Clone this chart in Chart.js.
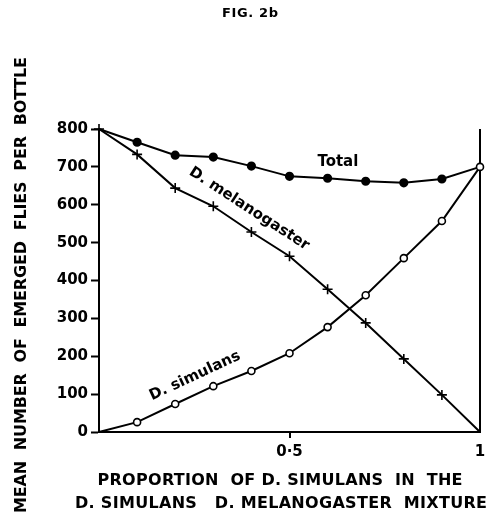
<!DOCTYPE html>
<html>
<head>
<meta charset="utf-8">
<script src="https://cdn.jsdelivr.net/npm/chart.js@4"></script>
<style>
  html, body { margin: 0; padding: 0; background: #fff; }
  #wrap { width: 493px; height: 524px; }
</style>
</head>
<body>
<div id="wrap"><canvas id="fig2b"></canvas></div>
<script>
// proportion of D. simulans in the mixture
var proportions = [0, 0.1, 0.2, 0.3, 0.4, 0.5, 0.6, 0.7, 0.8, 0.9, 1];
// mean number of emerged flies per bottle
var totalFlies = [800, 765, 731, 726, 702, 675, 670, 662, 658, 668, 700];
var melanogasterFlies = [800, 733, 644, 596, 528, 464, 377, 288, 193, 98, 0];
var simulansFlies = [0, 26, 74, 121, 161, 208, 277, 361, 459, 557, 700];

var xTickLabels = { 0.5: '0·5', 1: '1' };
var figTitle = 'FIG. 2b';
var yTitle = 'MEAN  NUMBER  OF  EMERGED  FLIES  PER  BOTTLE';
var xTitle = ['PROPORTION  OF D. SIMULANS  IN  THE', 'D. SIMULANS   D. MELANOGASTER  MIXTURE'];

var FONT = '"DejaVu Sans", sans-serif';

function toPoints(values) {
    return proportions.map(function (p, i) { return { x: p, y: values[i] }; });
}

// draws text stretched with letter spacing to a given width
function spacedText(c, text, x, y, width) {
    c.letterSpacing = '0px';
    var w = c.measureText(text).width;
    var gap = (width - w) / (text.length - 1);
    c.letterSpacing = gap + 'px';
    c.fillText(text, x + gap / 2, y);
    c.letterSpacing = '0px';
}

var textPlugin = {
    id: 'figText',
    afterDraw: function (chart) {
        var c = chart.ctx;
        var sx = chart.scales.x, sy = chart.scales.y;
        c.save();
        c.fillStyle = '#000';
        c.textAlign = 'center';
        c.textBaseline = 'middle';

        c.font = 'bold 13px ' + FONT;
        spacedText(c, figTitle, 250, 14, 56);

        c.font = 'bold 16px ' + FONT;
        spacedText(c, xTitle[0], 280, 481, 365);
        spacedText(c, xTitle[1], 281, 504, 412);

        c.save();
        c.translate(22, 285);
        c.rotate(-Math.PI / 2);
        spacedText(c, yTitle, 0, 0, 456);
        c.restore();

        // series labels, placed in data units
        c.font = 'bold 15px ' + FONT;
        [
            { text: 'Total', x: 0.627, y: 713, angle: 0 },
            { text: 'D. melanogaster', x: 0.394, y: 589, angle: 33 },
            { text: 'D. simulans', x: 0.252, y: 148, angle: -25 }
        ].forEach(function (l) {
            c.save();
            c.translate(sx.getPixelForValue(l.x), sy.getPixelForValue(l.y));
            c.rotate(l.angle * Math.PI / 180);
            c.fillText(l.text, 0, 0);
            c.restore();
        });
        c.restore();
    }
};

var n = proportions.length;
function radii(r, skipFirst, skipLast) {
    return proportions.map(function (p, i) {
        if ((skipFirst && i === 0) || (skipLast && i === n - 1)) return 0;
        return r;
    });
}

var ctx = document.getElementById('fig2b').getContext('2d');
var myChart = new Chart(ctx, {
    type: 'line',
    data: {
        datasets: [{
            label: 'D. simulans',
            data: toPoints(simulansFlies),
            borderColor: '#000',
            borderWidth: 2,
            pointStyle: 'circle',
            pointRadius: radii(3.5, true, false),
            pointBackgroundColor: '#fff',
            pointBorderColor: '#000',
            pointBorderWidth: 1.6,
            clip: false
        }, {
            label: 'Total',
            data: toPoints(totalFlies),
            borderColor: '#000',
            borderWidth: 2,
            pointStyle: 'circle',
            pointRadius: radii(3.6, true, true),
            pointBackgroundColor: '#000',
            pointBorderColor: '#000',
            clip: false
        }, {
            label: 'D. melanogaster',
            data: toPoints(melanogasterFlies),
            borderColor: '#000',
            borderWidth: 2,
            pointStyle: 'cross',
            pointRadius: radii(5, false, true),
            pointBorderColor: '#000',
            pointBorderWidth: 1.6,
            clip: false
        }]
    },
    options: {
        responsive: true,
        maintainAspectRatio: false,
        animation: false,
        layout: { padding: { top: 129, right: 13, left: 0, bottom: 0 } },
        plugins: {
            legend: { display: false },
            tooltip: { enabled: false }
        },
        scales: {
            x: {
                type: 'linear',
                min: 0,
                max: 1,
                ticks: {
                    stepSize: 0.5,
                    autoSkip: false,
                    maxRotation: 0,
                    color: '#000',
                    padding: 5,
                    font: { family: FONT, size: 15, weight: 'bold' },
                    callback: function (v) { return xTickLabels[v] || ''; }
                },
                grid: {
                    color: function (c) { return c.tick && c.tick.value === 1 ? '#000' : 'rgba(0,0,0,0)'; },
                    tickColor: function (c) { return c.tick && c.tick.value === 0.5 ? '#000' : 'rgba(0,0,0,0)'; },
                    lineWidth: 2,
                    tickLength: 6
                },
                border: { display: true, color: '#000', width: 2 },
                afterFit: function (s) { s.height = 92; }
            },
            y: {
                min: 0,
                max: 800,
                ticks: {
                    stepSize: 100,
                    color: '#000',
                    padding: 3,
                    font: { family: FONT, size: 15, weight: 'bold' }
                },
                grid: {
                    drawOnChartArea: false,
                    tickColor: '#000',
                    tickLength: 8,
                    tickWidth: 2
                },
                border: { display: true, color: '#000', width: 2 },
                afterFit: function (s) { s.width = 99; }
            }
        }
    },
    plugins: [textPlugin]
});
</script>
</body>
</html>
